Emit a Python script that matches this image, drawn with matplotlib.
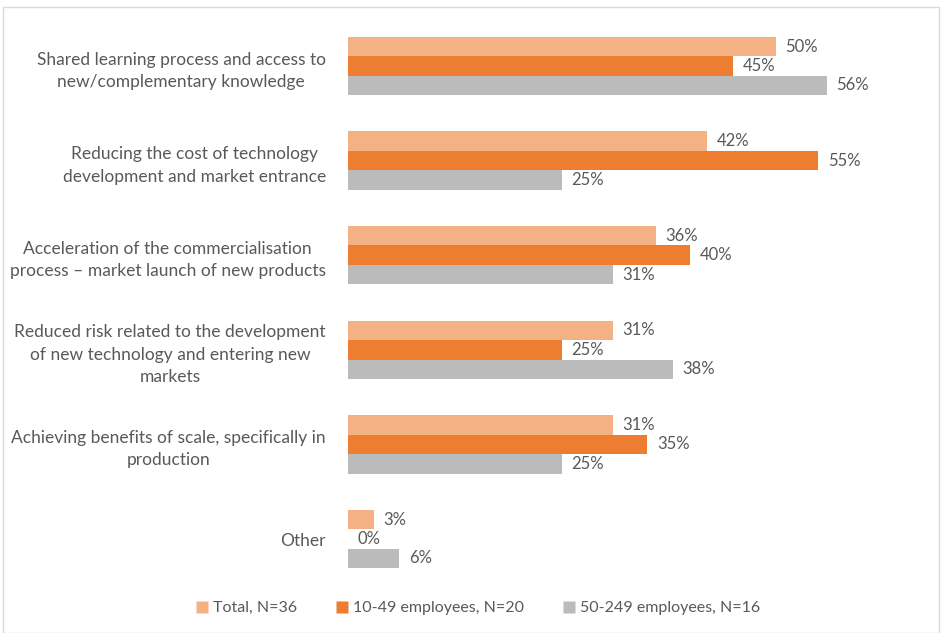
import matplotlib.pyplot as plt
from matplotlib.lines import Line2D
import numpy as np

categories = [
    "Shared learning process and access to\nnew/complementary knowledge",
    "Reducing the cost of technology\ndevelopment and market entrance",
    "Acceleration of the commercialisation\nprocess \u2013 market launch of new products",
    "Reduced risk related to the development\nof new technology and entering new\nmarkets",
    "Achieving benefits of scale, specifically in\nproduction",
    "Other",
]
series_names = ["Total, N=36", "10-49 employees, N=20", "50-249 employees, N=16"]
total = [50, 42, 36, 31, 31, 3]
small = [45, 55, 40, 25, 35, 0]
medium = [56, 25, 31, 38, 25, 6]
colors = ["#F4B183", "#ED7D31", "#BBBBBB"]
text_color = "#595959"

plt.rcParams['font.family'] = ['Lato', 'DejaVu Sans']
fig = plt.figure(figsize=(9.42, 6.33), dpi=100)
W, H = 942, 633

# outer frame
frame = plt.Rectangle((3 / W, 0.5 / H), 936 / W, 626 / H, transform=fig.transFigure,
                      fill=False, edgecolor="#D9D9D9", linewidth=1.0)
fig.add_artist(frame)

ax = fig.add_axes([348 / W, (H - 586.3) / H, (68 * 8.55) / W, (586.3 - 18.7) / H])
ax.set_xlim(0, 68)
ax.set_ylim(5.5, -0.5)

y = np.arange(len(categories))
bh = 0.206
for i, (vals, c) in enumerate(zip([total, small, medium], colors)):
    pos = y + (i - 1) * bh
    ax.barh(pos, vals, height=bh, color=c, edgecolor="none")
    for p, v in zip(pos, vals):
        ax.annotate(f"{v}%", xy=(v, p), xytext=(7, 0), textcoords="offset points",
                    va="center", ha="left", fontsize=12, color=text_color)

ax.set_yticks(y)
ax.set_yticklabels(categories, fontsize=12.5, color=text_color,
                   multialignment="center", linespacing=1.5)
ax.tick_params(axis="y", length=0, pad=16)
ax.set_xticks([])
for s in ax.spines.values():
    s.set_visible(False)

handles = [Line2D([0], [0], marker="s", linestyle="none", markersize=8,
                  markerfacecolor=c, markeredgecolor="none") for c in colors]
leg = fig.legend(handles, series_names, loc="center", bbox_to_anchor=(478 / W, 1 - 608 / H),
                 ncol=3, frameon=False, fontsize=11.5, handlelength=0.8, handletextpad=0.3,
                 columnspacing=2.4)
for t in leg.get_texts():
    t.set_color(text_color)

fig.savefig("out.png", dpi=100)
